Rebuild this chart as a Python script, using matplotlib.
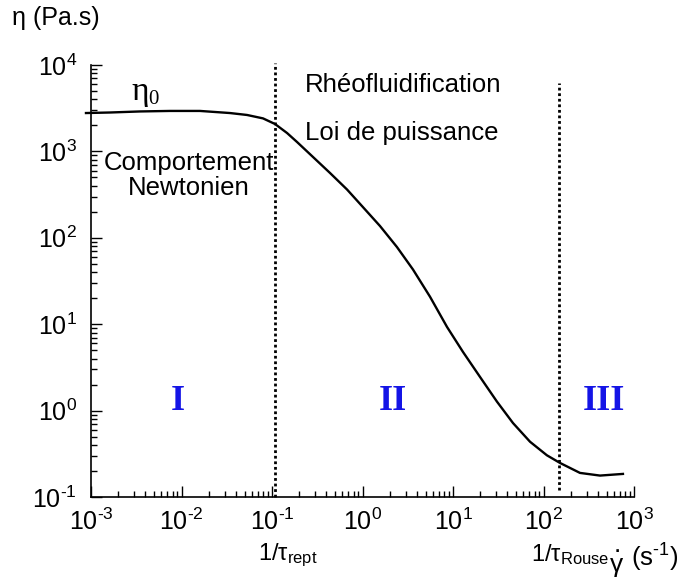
import math
import matplotlib
matplotlib.use("Agg")
import matplotlib.pyplot as plt
from matplotlib.ticker import FixedLocator, FuncFormatter, LogLocator, NullFormatter

plt.rcParams["font.family"] = ["Liberation Sans", "DejaVu Sans"]
plt.rcParams["mathtext.fontset"] = "custom"
plt.rcParams["mathtext.rm"] = "Liberation Sans"
plt.rcParams["mathtext.it"] = "Liberation Sans"
plt.rcParams["mathtext.default"] = "regular"
plt.rcParams["axes.unicode_minus"] = False

# courbe de viscosité
gamma_dot = [8.8e-4, 1.62e-3, 3.48e-3, 7.46e-3, 0.016, 0.0343, 0.053, 0.0796,
             0.108, 0.1466, 0.189, 0.284, 0.438, 0.675, 1.01, 1.56, 2.40, 3.61,
             5.57, 8.59, 12.9, 19.9, 30.6, 46.0, 71.0, 109, 152, 253, 421, 755]
eta = [2780, 2820, 2900, 2940, 2940, 2780, 2640, 2410,
       2075, 1633, 1285, 861, 562, 362, 227, 137, 78.3, 43.0,
       20.8, 9.29, 4.77, 2.45, 1.27, 0.718, 0.436, 0.304, 0.248, 0.190, 0.177, 0.185]

# limites des régimes
tau_rept_inv = 0.108
tau_rouse_inv = 148
rept_line_y = [0.1, 10500]
rouse_line_y = [0.12, 6200]

x_major = [1e-3, 1e-2, 1e-1, 1e0, 1e1, 1e2, 1e3]
y_major = [1e-1, 1e0, 1e1, 1e2, 1e3, 1e4]


def puissance(v, pos):
    e = str(int(round(math.log10(v)))).replace("-", r"\text{-}")
    return rf"$10^{{{e}}}$"


W, H = 684, 578
fig = plt.figure(figsize=(W / 100, H / 100), dpi=100)
ax = fig.add_axes([91 / W, 1 - 497 / H, (634 - 91) / W, (497 - 65) / H])

ax.plot(gamma_dot, eta, color="black", lw=1.7, clip_on=False, zorder=3,
        solid_joinstyle="round")
ax.plot([tau_rept_inv, tau_rept_inv], rept_line_y, color="black", lw=2,
        linestyle=(0, (1, 1)), clip_on=False)
ax.plot([tau_rouse_inv, tau_rouse_inv], rouse_line_y, color="black", lw=2,
        linestyle=(0, (1, 1)), clip_on=False)

ax.set_xscale("log")
ax.set_yscale("log")
ax.set_xlim(1e-3, 1e3)
ax.set_ylim(1e-1, 1e4)
ax.xaxis.set_major_locator(FixedLocator(x_major))
ax.yaxis.set_major_locator(FixedLocator(y_major))
ax.xaxis.set_major_formatter(FuncFormatter(puissance))
ax.yaxis.set_major_formatter(FuncFormatter(puissance))
ax.xaxis.set_minor_locator(LogLocator(base=10, subs=range(2, 10), numticks=20))
ax.yaxis.set_minor_locator(LogLocator(base=10, subs=range(2, 10), numticks=20))
ax.xaxis.set_minor_formatter(NullFormatter())
ax.yaxis.set_minor_formatter(NullFormatter())

for s in ["top", "right"]:
    ax.spines[s].set_visible(False)
for s in ["left", "bottom"]:
    ax.spines[s].set_linewidth(1.2)
ax.tick_params(which="major", direction="in", length=8, width=1, labelsize=18)
ax.tick_params(which="minor", direction="in", length=4, width=1)
ax.tick_params(axis="y", which="major", pad=10)
ax.tick_params(axis="x", which="major", pad=8)


def ftext(x, y, s, **kw):
    fig.text(x / W, 1 - y / H, s, **kw)


ftext(12, 18, "η (Pa.s)", fontsize=18, va="center", ha="left")

ftext(131, 100, "η", fontsize=24, family="Liberation Serif", ha="left", va="baseline")
ftext(148, 104, "0", fontsize=15, family="Liberation Serif", ha="left", va="baseline")

ftext(189, 163, "Comportement", fontsize=18.5, ha="center", va="center")
ftext(189, 188, "Newtonien", fontsize=18.5, ha="center", va="center")
ftext(305, 85, "Rhéofluidification", fontsize=18.5, ha="left", va="center")
ftext(305, 133, "Loi de puissance", fontsize=18.5, ha="left", va="center")

roman = dict(fontsize=26, family="Liberation Serif", fontweight="bold",
             color="#1414e6", ha="center", va="center")
ftext(178, 402, "I", **roman)
ftext(393, 402, "II", **roman)
ftext(604, 402, "III", **roman)

ftext(258, 555, r"1/τ$_{rept}$", fontsize=17, ha="left", va="center")
ftext(531, 555, r"1/τ$_{Rouse}$", fontsize=17, ha="left", va="center")
ftext(617, 572, ".\nγ", fontsize=19, ha="center", va="baseline",
      multialignment="center", linespacing=0.8)
ftext(631, 558, r"(s$^{\text{-}1}$)", fontsize=18.5, ha="left", va="center")

fig.savefig("out.png", dpi=100)
